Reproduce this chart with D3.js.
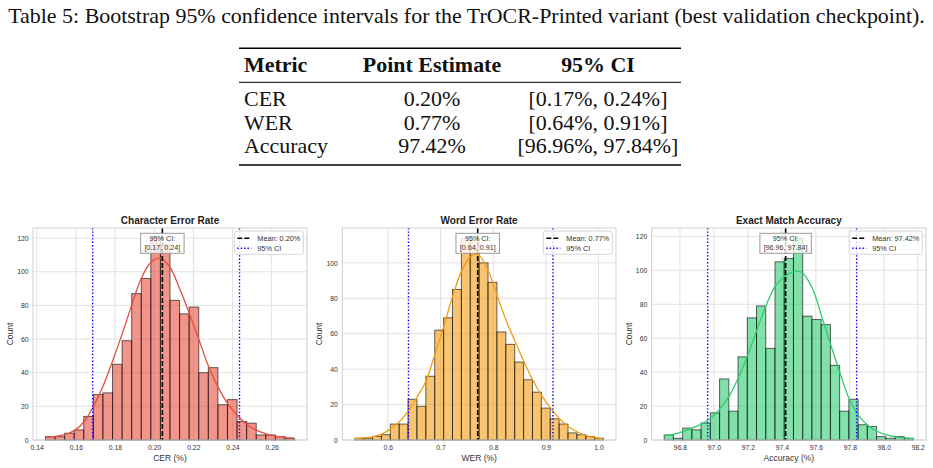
<!DOCTYPE html>
<html>
<head>
<meta charset="utf-8">
<script src="https://cdn.jsdelivr.net/npm/d3@7"></script>
<style>
body { margin: 0; background: #fff; }
svg { display: block; }
</style>
</head>
<body>
<div id="fig"></div>
<script>
/* Data ************************************************************************/

const caption = "Table 5: Bootstrap 95% confidence intervals for the TrOCR-Printed variant (best validation checkpoint).";
const tableHeader = ["Metric", "Point Estimate", "95% CI"];
const metricNames = ["CER", "WER", "Accuracy"];
const pointEstimates = ["0.20%", "0.77%", "97.42%"];
const ciLabels = ["[0.17%, 0.24%]", "[0.64%, 0.91%]", "[96.96%, 97.84%]"];

// bootstrap histograms (counts per bin, first/last bin edge)
const cerCounts = [2, 2, 4, 6, 14, 27, 28, 45, 59, 87, 96, 120, 116, 83, 75, 79, 40, 43, 21, 24, 11, 10, 3, 3, 2, 1];
const cerRange = [0.1445, 0.2717];
const werCounts = [1, 1, 2, 3, 9, 9, 23, 19, 36, 62, 69, 85, 114, 113, 100, 89, 61, 54, 44, 34, 27, 18, 12, 9, 4, 3, 2, 1];
const werRange = [0.5372, 1.0095];
const accCounts = [3, 1, 7, 6, 10, 16, 36, 17, 49, 72, 79, 54, 105, 107, 119, 73, 71, 68, 44, 17, 24, 9, 8, 2, 1, 2, 1];
const accRange = [96.707, 98.175];

// kde curves as [value, count]
const cerKde = [[0.1445, 1.6], [0.1496, 2.2], [0.1547, 3.3], [0.1598, 6], [0.1643, 11], [0.169, 20],
    [0.1739, 32], [0.1788, 47], [0.1835, 62.5], [0.1885, 80], [0.1934, 96], [0.1983, 105.5],
    [0.2032, 108], [0.2079, 103], [0.2130, 90], [0.2177, 76], [0.2226, 60.5], [0.2275, 44.6],
    [0.2324, 32], [0.2373, 22], [0.2422, 15], [0.2471, 9.5], [0.2518, 6], [0.2567, 3.8],
    [0.2616, 2.4], [0.2665, 1.6], [0.2714, 1.1]];
const werKde = [[0.5372, 0.8], [0.554, 1.2], [0.5707, 1.8], [0.587, 3.2], [0.604, 6], [0.621, 10],
    [0.638, 16], [0.655, 24], [0.672, 33], [0.689, 48], [0.706, 64], [0.723, 81], [0.740, 95.5],
    [0.757, 103.5], [0.766, 105], [0.774, 104], [0.790, 96], [0.807, 82], [0.824, 68], [0.841, 56],
    [0.858, 44.5], [0.875, 34], [0.892, 25], [0.909, 18], [0.926, 12], [0.943, 7.5], [0.960, 4.5],
    [0.976, 2.5], [0.993, 1.4], [1.009, 0.8]];
const accKde = [[96.707, 2.6], [96.762, 3.3], [96.817, 5], [96.872, 7], [96.927, 9.4], [96.980, 12.8],
    [97.035, 18.3], [97.090, 26], [97.145, 37], [97.202, 50.7], [97.255, 65.5], [97.310, 80],
    [97.363, 91], [97.418, 96.5], [97.471, 99.3], [97.497, 99.5], [97.526, 98], [97.581, 89],
    [97.634, 73], [97.689, 55.7], [97.744, 39], [97.797, 24], [97.852, 14.4], [97.907, 8.5],
    [97.962, 5], [98.017, 3], [98.070, 1.8], [98.125, 1.2], [98.175, 0.8]];

const meanValues = [0.2042, 0.7706, 97.422];
const ciLows = [0.1686, 0.6392, 96.963];
const ciHighs = [0.2436, 0.9135, 97.840];
const meanLabels = ["Mean: 0.20%", "Mean: 0.77%", "Mean: 97.42%"];
const ciBoxLabels = ["[0.17, 0.24]", "[0.64, 0.91]", "[96.96, 97.84]"];

const titles = ["Character Error Rate", "Word Error Rate", "Exact Match Accuracy"];
const xLabels = ["CER (%)", "WER (%)", "Accuracy (%)"];
const cerTicks = [0.14, 0.16, 0.18, 0.20, 0.22, 0.24, 0.26];
const werTicks = [0.6, 0.7, 0.8, 0.9, 1.0];
const accTicks = [96.8, 97.0, 97.2, 97.4, 97.6, 97.8, 98.0, 98.2];
const countTicks = [0, 20, 40, 60, 80, 100, 120];

/* Layout **********************************************************************/

const width = 933, height = 468;
const serif = "'Liberation Serif', 'Times New Roman', serif",
      sans = "'Liberation Sans', Arial, sans-serif";

let svg = d3.select('#fig').append('svg')
    .attr('width', width)
    .attr('height', height);

svg.append('rect').attr('width', width).attr('height', height).attr('fill', '#fff');

/* Table ***********************************************************************/

function draw_table()
{
    let g = svg.append('g').attr('font-family', serif).attr('fill', '#111');

    // caption, scaled so that it spans the same width as the LaTeX one
    let cap = g.append('text')
        .attr('x', width / 2)
        .attr('y', 23)
        .attr('text-anchor', 'middle')
        .attr('font-size', 16)
        .text(caption);
    let fs = 16 * 917 / cap.node().getComputedTextLength();
    cap.attr('font-size', fs);

    let rule = (y, w) => g.append('line')
        .attr('x1', 239).attr('x2', 681)
        .attr('y1', y).attr('y2', y)
        .attr('stroke', '#000').attr('stroke-width', w);
    rule(48.3, 1.5);
    rule(82.3, 1);
    rule(165, 1.5);

    let colX = [244, 432, 598],
        anchors = ['start', 'middle', 'middle'],
        rowY = [106, 129.5, 153];

    tableHeader.forEach((h, i) =>
        g.append('text')
            .attr('x', colX[i]).attr('y', 72)
            .attr('text-anchor', anchors[i])
            .attr('font-size', fs)
            .attr('font-weight', 'bold')
            .text(h));

    [metricNames, pointEstimates, ciLabels].forEach((col, i) =>
        g.selectAll(null).data(col).enter()
            .append('text')
            .attr('x', colX[i])
            .attr('y', (d, j) => rowY[j])
            .attr('text-anchor', anchors[i])
            .attr('font-size', fs)
            .text(d => d));
}

/* Histogram panels ************************************************************/

function build_panel(p)
{
    let top = 228, bottom = 440;
    let g = svg.append('g').attr('font-family', sans);

    let counts = p.counts,
        n = counts.length,
        span = p.range[1] - p.range[0],
        edges = d3.range(n + 1).map(i => p.range[0] + span * i / n),
        bins = counts.map((c, i) => ({ x0: edges[i], x1: edges[i + 1], c: c }));

    let x = d3.scaleLinear()
        .domain([p.range[0] - 0.05 * span, p.range[1] + 0.05 * span])
        .range([p.left, p.right]);
    let y = d3.scaleLinear()
        .domain([0, d3.max(counts) * 1.05])
        .range([bottom, top]);

    // grid
    g.append('g').selectAll('line').data(p.ticks).enter()
        .append('line')
        .attr('x1', d => x(d)).attr('x2', d => x(d))
        .attr('y1', top).attr('y2', bottom)
        .attr('stroke', '#e2e2e2').attr('stroke-width', 1);
    let yt = countTicks.filter(d => d <= y.domain()[1]);
    g.append('g').selectAll('line').data(yt).enter()
        .append('line')
        .attr('x1', p.left).attr('x2', p.right)
        .attr('y1', d => y(d)).attr('y2', d => y(d))
        .attr('stroke', '#e2e2e2').attr('stroke-width', 1);

    // bars
    g.append('g').selectAll('rect').data(bins).enter()
        .append('rect')
        .attr('x', d => x(d.x0))
        .attr('y', d => y(d.c))
        .attr('width', d => x(d.x1) - x(d.x0))
        .attr('height', d => y(0) - y(d.c))
        .attr('fill', p.color).attr('fill-opacity', 0.6)
        .attr('stroke', '#000').attr('stroke-opacity', 0.6)
        .attr('stroke-width', 1);

    // kde
    let line = d3.line()
        .x(d => x(d[0]))
        .y(d => y(d[1]))
        .curve(d3.curveCatmullRom);
    g.append('path')
        .attr('d', line(p.kde))
        .attr('fill', 'none')
        .attr('stroke', p.color)
        .attr('stroke-width', 1.3);

    // mean and CI lines
    g.append('line')
        .attr('x1', x(p.mean)).attr('x2', x(p.mean))
        .attr('y1', top).attr('y2', bottom)
        .attr('stroke', '#000').attr('stroke-width', 1.6)
        .attr('stroke-dasharray', '5,2');
    g.selectAll(null).data([p.ciLo, p.ciHi]).enter()
        .append('line')
        .attr('x1', d => x(d)).attr('x2', d => x(d))
        .attr('y1', top).attr('y2', bottom)
        .attr('stroke', '#0000ff').attr('stroke-width', 1.4)
        .attr('stroke-dasharray', '1.4,2');

    // spines
    g.append('rect')
        .attr('x', p.left).attr('y', top)
        .attr('width', p.right - p.left).attr('height', bottom - top)
        .attr('fill', 'none').attr('stroke', '#cfcfcf').attr('stroke-width', 1);

    // axes
    let xaxis = g.append('g')
        .attr('transform', `translate(0,${bottom})`)
        .call(d3.axisBottom(x).tickValues(p.ticks).tickFormat(d3.format(p.fmt))
              .tickSize(0).tickPadding(5));
    let yaxis = g.append('g')
        .attr('transform', `translate(${p.left},0)`)
        .call(d3.axisLeft(y).tickValues(yt).tickFormat(d3.format('d'))
              .tickSize(0).tickPadding(4.5));
    [xaxis, yaxis].forEach(a => {
        a.select('.domain').remove();
        a.selectAll('text')
            .attr('font-family', sans)
            .attr('font-size', 6.8)
            .attr('fill', '#333');
    });

    // labels
    g.append('text')
        .attr('x', (p.left + p.right) / 2).attr('y', 460.8)
        .attr('text-anchor', 'middle')
        .attr('font-size', 8.5).attr('fill', '#333')
        .text(p.xlabel);
    let lx = p.left - 23, ly = (top + bottom) / 2;
    g.append('text')
        .attr('x', lx).attr('y', ly)
        .attr('transform', `rotate(-90, ${lx}, ${ly})`)
        .attr('text-anchor', 'middle')
        .attr('dominant-baseline', 'central')
        .attr('font-size', 8.5).attr('fill', '#333')
        .text('Count');
    g.append('text')
        .attr('x', (p.left + p.right) / 2).attr('y', 224.3)
        .attr('text-anchor', 'middle')
        .attr('font-size', 10).attr('font-weight', 'bold').attr('fill', '#222')
        .text(p.title);

    // CI annotation box
    let ann = g.append('g');
    let annRect = ann.append('rect');
    let annText = ann.selectAll('text').data(['95% CI:', p.ciBox]).enter()
        .append('text')
        .attr('x', x(p.mean))
        .attr('y', (d, i) => top + 10.5 + i * 9)
        .attr('text-anchor', 'middle')
        .attr('dominant-baseline', 'central')
        .attr('font-size', 7.2).attr('fill', '#333')
        .text(d => d);
    let aw = d3.max(annText.nodes(), t => t.getComputedTextLength()) + 7.5;
    annRect
        .attr('x', x(p.mean) - aw / 2).attr('y', top + 5.3)
        .attr('width', aw).attr('height', 20)
        .attr('fill', '#fff').attr('fill-opacity', 0.8)
        .attr('stroke', '#9a9a9a').attr('stroke-width', 1);

    // legend
    let leg = g.append('g');
    let legRect = leg.append('rect');
    let legText = leg.selectAll('text').data([p.meanLabel, '95% CI']).enter()
        .append('text')
        .attr('dominant-baseline', 'central')
        .attr('font-size', 7.3).attr('fill', '#333')
        .text(d => d);
    let tw = d3.max(legText.nodes(), t => t.getComputedTextLength()),
        bw = tw + 26,
        x0 = p.right - 3.7 - bw;
    legRect
        .attr('x', x0).attr('y', top + 3)
        .attr('width', bw).attr('height', 23.3)
        .attr('rx', 2)
        .attr('fill', '#fff').attr('fill-opacity', 0.8)
        .attr('stroke', '#d6d6d6').attr('stroke-width', 1);
    legText
        .attr('x', x0 + 23)
        .attr('y', (d, i) => top + 10.3 + i * 10);
    leg.append('line')
        .attr('x1', x0 + 3).attr('x2', x0 + 17)
        .attr('y1', top + 10.3).attr('y2', top + 10.3)
        .attr('stroke', '#000').attr('stroke-width', 1.6)
        .attr('stroke-dasharray', '5,2');
    leg.append('line')
        .attr('x1', x0 + 3).attr('x2', x0 + 17)
        .attr('y1', top + 20.3).attr('y2', top + 20.3)
        .attr('stroke', '#0000ff').attr('stroke-width', 1.4)
        .attr('stroke-dasharray', '1.4,2');
}

draw_table();

build_panel({ left: 33, right: 307, counts: cerCounts, range: cerRange, kde: cerKde,
              mean: meanValues[0], ciLo: ciLows[0], ciHi: ciHighs[0],
              meanLabel: meanLabels[0], ciBox: ciBoxLabels[0],
              title: titles[0], xlabel: xLabels[0], ticks: cerTicks, fmt: '.2f',
              color: '#e74c3c' });
build_panel({ left: 342.3, right: 616, counts: werCounts, range: werRange, kde: werKde,
              mean: meanValues[1], ciLo: ciLows[1], ciHi: ciHighs[1],
              meanLabel: meanLabels[1], ciBox: ciBoxLabels[1],
              title: titles[1], xlabel: xLabels[1], ticks: werTicks, fmt: '.1f',
              color: '#f39c12' });
build_panel({ left: 651.7, right: 926, counts: accCounts, range: accRange, kde: accKde,
              mean: meanValues[2], ciLo: ciLows[2], ciHi: ciHighs[2],
              meanLabel: meanLabels[2], ciBox: ciBoxLabels[2],
              title: titles[2], xlabel: xLabels[2], ticks: accTicks, fmt: '.1f',
              color: '#2ecc71' });
</script>
</body>
</html>
